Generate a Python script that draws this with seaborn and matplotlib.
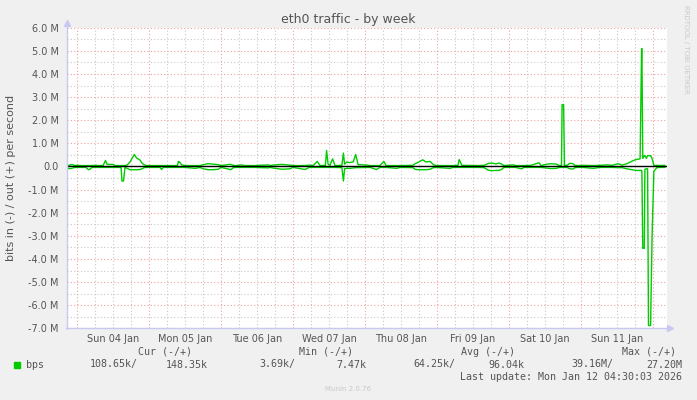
import pandas as pd
import matplotlib
matplotlib.use("Agg")
import matplotlib.pyplot as plt
import seaborn as sns
from matplotlib.patches import Rectangle
from matplotlib.lines import Line2D

# hours since Sun 04 Jan 00:00, traffic in Mbit/s (in is drawn below zero)
hours = [-3.3, -2.7, -2.0, -1.3, -0.7, 0.3, 1.0, 3.0, 3.8, 4.3, 5.0, 6.5, 7.0, 8.7, 9.5, 10.0,
         10.3, 12.0, 12.7, 14.7, 15.0, 15.5, 16.0, 16.7, 17.7, 19.1, 19.9, 21.0, 21.7, 22.3, 23.3,
         27.7, 28.2, 28.7, 33.5, 33.8, 34.1, 34.9, 36.0, 39.5, 41.0, 42.1, 43.7, 45.3, 47.1, 48.0,
         50.8, 51.3, 52.1, 53.0, 54.9, 55.7, 59.3, 63.8, 64.3, 66.0, 68.3, 71.0, 72.0, 76.0, 77.4,
         78.7, 80.1, 81.0, 82.8, 83.2, 83.7, 84.3, 85.2, 86.0, 88.3, 88.8, 89.2, 89.9, 91.0, 92.1,
         92.9, 93.7, 96.7, 97.7, 99.8, 101.0, 102.3, 103.0, 106.6, 107.7, 112.0, 112.7, 113.7,
         115.2, 116.3, 117.7, 118.8, 119.7, 124.3, 125.3, 127.0, 127.4, 128.3, 133.7, 135.7, 137.1,
         138.3, 139.7, 140.7, 141.6, 142.3, 145.4, 146.3, 148.2, 149.0, 151.3, 154.0, 154.7, 156.6,
         158.0, 159.9, 160.7, 161.5, 161.7, 162.2, 162.5, 163.3, 164.3, 165.3, 166.0, 167.0, 168.7,
         172.1, 174.3, 176.7, 178.3, 180.4, 181.7, 183.3, 185.0, 186.3, 187.7, 188.2, 188.3, 188.6,
         189.1, 189.3, 189.8, 190.2, 190.5, 191.2, 191.7, 192.3, 193.3, 194.3, 196.0]

out_mbps = [0.04, 0.05, 0.08, 0.07, 0.04, 0.05, 0.04, 0.04, 0.04, 0.04, 0.04, 0.05, 0.04, 0.04, 0.26, 0.10,
            0.09, 0.09, 0.04, 0.04, 0.04, 0.04, 0.04, 0.06, 0.20, 0.52, 0.36, 0.28, 0.14, 0.08, 0.04,
            0.04, 0.04, 0.04, 0.04, 0.22, 0.20, 0.07, 0.04, 0.04, 0.04, 0.08, 0.12, 0.10, 0.08, 0.04,
            0.09, 0.09, 0.05, 0.04, 0.07, 0.04, 0.04, 0.07, 0.04, 0.07, 0.09, 0.06, 0.04, 0.04, 0.06,
            0.04, 0.22, 0.04, 0.05, 0.69, 0.10, 0.05, 0.33, 0.04, 0.05, 0.58, 0.10, 0.19, 0.17, 0.20,
            0.52, 0.08, 0.06, 0.04, 0.04, 0.04, 0.22, 0.04, 0.04, 0.04, 0.05, 0.12, 0.18,
            0.29, 0.20, 0.22, 0.08, 0.04, 0.04, 0.04, 0.05, 0.30, 0.05, 0.04, 0.05, 0.13,
            0.15, 0.11, 0.15, 0.10, 0.04, 0.07, 0.04, 0.04, 0.04, 0.05, 0.16, 0.04, 0.10,
            0.12, 0.10, 0.04, 0.04, 2.68, 2.68, 0.05, 0.05, 0.14, 0.12, 0.05, 0.04, 0.05,
            0.04, 0.05, 0.07, 0.05, 0.12, 0.06, 0.12, 0.23, 0.30, 0.33, 5.10, 5.10, 0.35,
            0.47, 0.47, 0.35, 0.47, 0.47, 0.47, 0.35, 0.04, 0.05, 0.04, 0.05]

in_mbps = [0.07, 0.09, 0.09, 0.06, 0.04, 0.04, 0.04, 0.04, 0.14, 0.12, 0.04, 0.04, 0.04, 0.04, 0.04, 0.04,
           0.04, 0.04, 0.04, 0.04, 0.63, 0.63, 0.04, 0.08, 0.14, 0.14, 0.14, 0.13, 0.10, 0.05, 0.04,
           0.04, 0.13, 0.04, 0.04, 0.04, 0.04, 0.04, 0.04, 0.08, 0.04, 0.10, 0.14, 0.14, 0.12, 0.04,
           0.12, 0.14, 0.05, 0.04, 0.04, 0.04, 0.04, 0.06, 0.04, 0.08, 0.12, 0.10, 0.04, 0.13, 0.04,
           0.04, 0.04, 0.04, 0.04, 0.04, 0.04, 0.04, 0.04, 0.04, 0.05, 0.63, 0.10, 0.08, 0.08, 0.06,
           0.05, 0.05, 0.04, 0.04, 0.13, 0.04, 0.04, 0.04, 0.08, 0.04, 0.05, 0.12, 0.14,
           0.14, 0.14, 0.12, 0.05, 0.04, 0.08, 0.04, 0.04, 0.04, 0.04, 0.04, 0.05, 0.16,
           0.18, 0.17, 0.17, 0.12, 0.04, 0.04, 0.04, 0.10, 0.04, 0.04, 0.04, 0.04, 0.07,
           0.09, 0.08, 0.04, 0.04, 0.04, 0.04, 0.04, 0.04, 0.10, 0.11, 0.05, 0.04, 0.04,
           0.08, 0.04, 0.04, 0.04, 0.05, 0.05, 0.10, 0.14, 0.17, 0.17, 0.17, 0.20, 3.54,
           3.54, 0.12, 0.10, 0.10, 6.88, 6.88, 3.00, 0.20, 0.05, 0.04, 0.04]

day_labels = ["Sun 04 Jan", "Mon 05 Jan", "Tue 06 Jan", "Wed 07 Jan",
              "Thu 08 Jan", "Fri 09 Jan", "Sat 10 Jan", "Sun 11 Jan"]
y_ticks = [6, 5, 4, 3, 2, 1, 0, -1, -2, -3, -4, -5, -6, -7]

legend_headers = ["Cur (-/+)", "Min (-/+)", "Avg (-/+)", "Max (-/+)"]
legend_values = ["108.65k/", "148.35k", "3.69k/", "7.47k",
                 "64.25k/", "96.04k", "39.16M/", "27.20M"]

GREEN = "#00cc00"
TEXT = "#555555"
RED_GRID = "#f0a0a0"
GRAY_GRID = "#c8c8c8"
AXIS = "#c8c8f0"

sns.set_theme(style="white")
plt.rcParams["font.family"] = ["DejaVu Sans"]

W, H = 697, 400
fig = plt.figure(figsize=(W / 100, H / 100), dpi=100)
fig.patch.set_facecolor("#f0f0f0")

def fx(px):
    return px / W

def fy(py):
    return 1 - py / H

x0, x1, ytop, ybot = 67, 667, 27.8, 328.3
ax = fig.add_axes([fx(x0), fy(ybot), fx(x1 - x0), (ybot - ytop) / H])
ax.set_facecolor("white")

df = pd.concat([
    pd.DataFrame({"hour": hours, "mbps": out_mbps, "dir": "out"}),
    pd.DataFrame({"hour": hours, "mbps": [-v for v in in_mbps], "dir": "in"}),
])

# grid: gray every 6h / 0.5M, red at midnight / 1M
for h in range(-6, 200, 6):
    if h % 24 != 0:
        ax.axvline(h, color=GRAY_GRID, lw=0.8, ls=(0, (1, 2)), zorder=0)
for h in range(0, 200, 24):
    ax.axvline(h, color=RED_GRID, lw=0.8, ls=(0, (1, 2)), zorder=0)
for v in y_ticks:
    ax.axhline(v + 0.5, color=GRAY_GRID, lw=0.8, ls=(0, (1, 2)), zorder=0)
    ax.axhline(v, color=RED_GRID, lw=0.8, ls=(0, (1, 2)), zorder=0)

sns.lineplot(data=df, x="hour", y="mbps", hue="dir", units="dir", estimator=None,
             palette={"out": GREEN, "in": GREEN}, sort=False, lw=1.0, legend=False, ax=ax)
ax.axhline(0, color="black", lw=1.0, zorder=3)

ax.set_xlim(-3.33, 196.67)
ax.set_ylim(-7.0, 6.0)
ax.set_yticks(y_ticks)
ax.set_yticklabels([("%.1f M" % v) if v != 0 else "0.0" for v in y_ticks])
ax.set_xticks([12 + 24 * i for i in range(len(day_labels))])
ax.set_xticklabels(day_labels)
ax.tick_params(axis="y", length=2, color=RED_GRID, pad=4, labelsize=7, labelcolor=TEXT)
ax.tick_params(axis="x", length=0, pad=4, labelsize=7, labelcolor=TEXT)
ax.set_xlabel("")
ax.set_ylabel("")
for s in ["top", "right", "bottom", "left"]:
    ax.spines[s].set_visible(False)

# axes with arrows
fig.add_artist(Line2D([fx(x0), fx(x0)], [fy(ybot + 1), fy(22)], color=AXIS, lw=1))
fig.add_artist(Line2D([fx(x0 - 1), fx(671)], [fy(ybot), fy(ybot)], color=AXIS, lw=1))
fig.add_artist(Line2D([fx(x0)], [fy(23)], marker="^", ms=5, color=AXIS, mec=AXIS))
fig.add_artist(Line2D([fx(670)], [fy(ybot)], marker=">", ms=5, color=AXIS, mec=AXIS))

fig.text(fx(348.5), fy(19), "eth0 traffic - by week", ha="center", va="center",
         fontsize=9, color=TEXT)
fig.text(fx(11), fy(178), "bits in (-) / out (+) per second", rotation=90,
         ha="center", va="center", fontsize=8, color=TEXT)
fig.text(fx(686), fy(5), "RRDTOOL / TOBI OETIKER", rotation=270, ha="center", va="top",
         fontsize=5, color="#c8c8c8")

# legend block
mono = {"family": "DejaVu Sans Mono", "size": 7.2, "color": TEXT}
for label, right in zip(legend_headers, [192, 353, 515, 676]):
    fig.text(fx(right), fy(352), label, ha="right", va="center", **mono)
fig.add_artist(Rectangle((fx(14), fy(367.5)), fx(6), 6 / H, color=GREEN,
                         transform=fig.transFigure))
fig.text(fx(26), fy(364.5), "bps", ha="left", va="center", **mono)
for val, right in zip(legend_values, [138, 207.5, 295.5, 366, 455.5, 524.5, 613, 682]):
    fig.text(fx(right), fy(364.5), val, ha="right", va="center", **mono)
fig.text(fx(682), fy(376.5), "Last update: Mon Jan 12 04:30:03 2026", ha="right",
         va="center", **mono)
fig.text(fx(348.5), fy(389), "Munin 2.0.76", ha="center", va="center",
         fontsize=5, color="#c8c8c8")

fig.savefig("out.png", dpi=100, facecolor=fig.get_facecolor())
